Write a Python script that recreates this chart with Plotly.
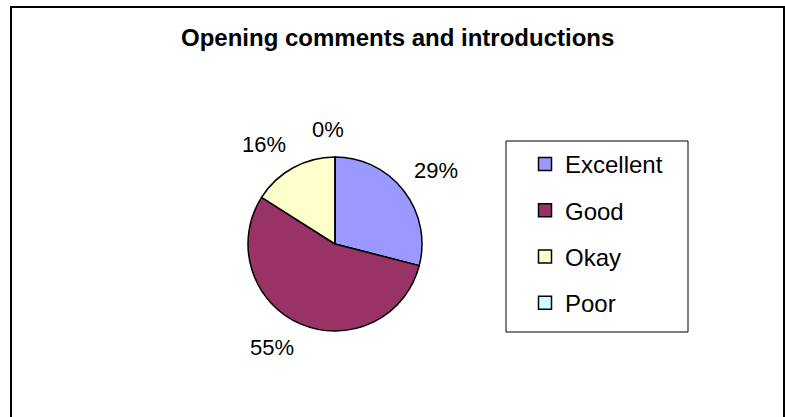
import math
import plotly.graph_objects as go

# data
labels = ["Excellent", "Good", "Okay", "Poor"]
values = [29, 55, 16, 0]
colors = ["#9999FF", "#993366", "#FFFFCC", "#CCFFFF"]
title = "Opening comments and introductions"

W, H = 785, 417
FONT = "Liberation Sans, Arial, sans-serif"

# pie geometry in pixels
cx, cy, r = 335, 244, 87
dom_x = [(cx - r) / W, (cx + r) / W]
dom_y = [1 - (cy + r) / H, 1 - (cy - r) / H]

fig = go.Figure()

# main pie
fig.add_trace(go.Pie(
    labels=labels, values=values, sort=False, direction="clockwise", rotation=0,
    marker=dict(colors=colors, line=dict(color="black", width=1.5)),
    textinfo="none", hoverinfo="label+percent", showlegend=False,
    domain=dict(x=dom_x, y=dom_y),
))

# legend-only entries, one group each so the rows can be spaced out
for lab, col in zip(labels, colors):
    fig.add_trace(go.Scatter(
        x=[None], y=[None], mode="markers", name=lab, legendgroup=lab,
        marker=dict(symbol="square", size=13, color=col, line=dict(color="black", width=1.5)),
        showlegend=True, hoverinfo="skip",
    ))

# percentage labels outside the slices (Excel style)
total = sum(values)
cum = 0
annotations = []
for v in values:
    mid = (cum + v / 2) / total
    cum += v
    ang = 2 * math.pi * mid
    s, c = math.sin(ang), math.cos(ang)
    d = r + 10
    px_ = cx + d * s
    py_ = cy - d * c
    if abs(s) < 0.05:
        xa = "right"
        px_ += 11
        py_ -= 3
    else:
        xa = "left" if s > 0 else "right"
    ya = "bottom" if c > 0 else "top"
    annotations.append(dict(
        x=px_ / W, y=1 - py_ / H, xref="paper", yref="paper",
        text=f"{round(v / total * 100)}%", showarrow=False,
        xanchor=xa, yanchor=ya, font=dict(family=FONT, size=22, color="black"),
    ))

annotations.append(dict(
    x=397 / W, y=1 - 38 / H, xref="paper", yref="paper", text=f"<b>{title}</b>",
    showarrow=False, xanchor="center", yanchor="middle",
    font=dict(family=FONT, size=24, color="black"),
))

shapes = [
    # chart area frame
    dict(type="rect", xref="paper", yref="paper", x0=11 / W, x1=784 / W, y0=-0.05, y1=1 - 7 / H,
         line=dict(color="black", width=2)),
    # legend frame
    dict(type="rect", xref="paper", yref="paper", x0=506 / W, x1=688 / W,
         y0=1 - 332 / H, y1=1 - 141 / H, line=dict(color="black", width=1)),
]

fig.update_layout(
    width=W, height=H,
    margin=dict(l=0, r=0, t=0, b=0),
    paper_bgcolor="white", plot_bgcolor="white",
    font=dict(family=FONT, color="black"),
    annotations=annotations, shapes=shapes,
    xaxis=dict(visible=False), yaxis=dict(visible=False),
    legend=dict(x=525 / W, y=1 - 142 / H, xanchor="left", yanchor="top",
                font=dict(family=FONT, size=24, color="black"),
                tracegroupgap=12, bgcolor="rgba(0,0,0,0)", borderwidth=0),
)

fig.write_html("out.html", config={"displayModeBar": False},
               post_script="document.body.style.margin='0';")
